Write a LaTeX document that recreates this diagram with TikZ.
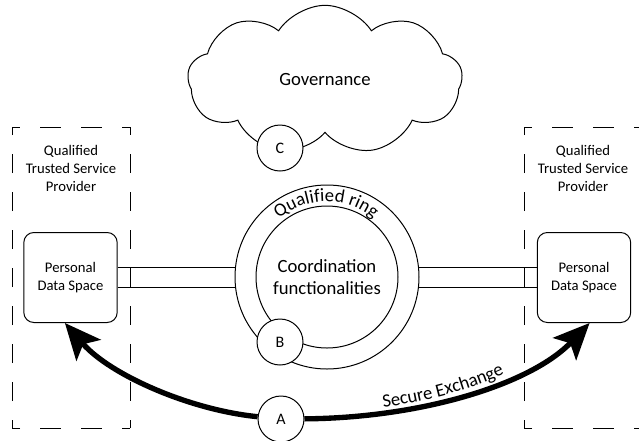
\documentclass[tikz,border=0pt]{standalone}
\usepackage{fontspec}
\setmainfont{Carlito}
\usetikzlibrary{shapes.symbols,arrows.meta,decorations.text}

\tikzset{every picture/.style={line width=0.75pt}}

\begin{document}
\begin{tikzpicture}[x=0.75pt,y=0.75pt,yscale=-1,xscale=1,
    hdash/.style={dash pattern=on 15.3pt off 15.3pt, dash phase=9.3pt},
    vdash/.style={dash pattern=on 14.25pt off 14.25pt, dash phase=8.25pt},
    zonetext/.style={align=center, font=\fontsize{11}{13.5}\selectfont},
    pds/.style={draw, rounded corners=7.5pt, minimum width=70pt, minimum height=67.5pt, align=center, font=\fontsize{11}{13.5}\selectfont},
    letter/.style={draw, circle, fill=white, minimum size=34.5pt, inner sep=0pt, font=\fontsize{12}{14}\selectfont},
    exch/.style={line width=4pt, -{Stealth[length=27pt, width=24pt, inset=6pt]}}]
    \useasboundingbox (0,0) rectangle (639,440);

    %Cloud: governance
    \node [cloud, draw, cloud puffs=9, cloud puff arc=115, aspect=1.9, minimum width=206pt, minimum height=112pt, font=\fontsize{14}{17}\selectfont] (gov) at (325,80) {Governance};
    \node [letter] (C) at (280,148) {C};

    %Dashed zones of the service providers
    \foreach \zx in {12,524} {
        \draw [hdash] (\zx,127) -- (\zx+118,127);
        \draw [vdash] (\zx+118,127) -- (\zx+118,428);
        \draw [hdash] (\zx+118,428) -- (\zx,428);
        \draw [vdash] (\zx,428) -- (\zx,127);
    }
    \node [zonetext] (ltsp) at (71,168) {Qualified\\Trusted Service\\Provider};
    \node [zonetext] (rtsp) at (583,168) {Qualified\\Trusted Service\\Provider};

    %Personal data spaces
    \node [pds] (lpds) at (70.5,277.5) {Personal\\Data Space};
    \node [pds] (rpds) at (584,277.5) {Personal\\Data Space};

    %Channel through the ring
    \draw ([yshift=7.5pt]lpds.east) -- ([yshift=7.5pt]rpds.west);
    \draw ([yshift=-7.5pt]lpds.east) -- ([yshift=-7.5pt]rpds.west);

    %Qualified ring
    \node [circle, draw, fill=white, minimum size=138pt] (ring) at (327,277) {};
    \node [circle, draw, minimum size=106.5pt, align=center, font=\fontsize{14}{16.5}\selectfont] (core) at (ring.center) {Coordination\\functionalities};
    \path [decorate, decoration={text along path, text align=center, text={|\fontsize{14}{16}\selectfont|Qualified ring}}] (261.2,239) arc [start angle=-150, end angle=-30, radius=75];
    \node [letter] (B) at (280,342) {B};

    %Secure exchange
    \node [letter] (A) at (281,419) {A};
    \draw [exch] (A) .. controls (190,410) and (110,375) .. (lpds.-97);
    \draw [exch] (A) .. controls (420,418) and (530,385) .. (rpds.-83);
    \path [decorate, decoration={text along path, raise=4pt, text align={left indent=60pt}, text={|\fontsize{14}{16}\selectfont|Secure Exchange}}] (A) .. controls (420,418) and (530,385) .. (rpds.-83);

\end{tikzpicture}
\end{document}
